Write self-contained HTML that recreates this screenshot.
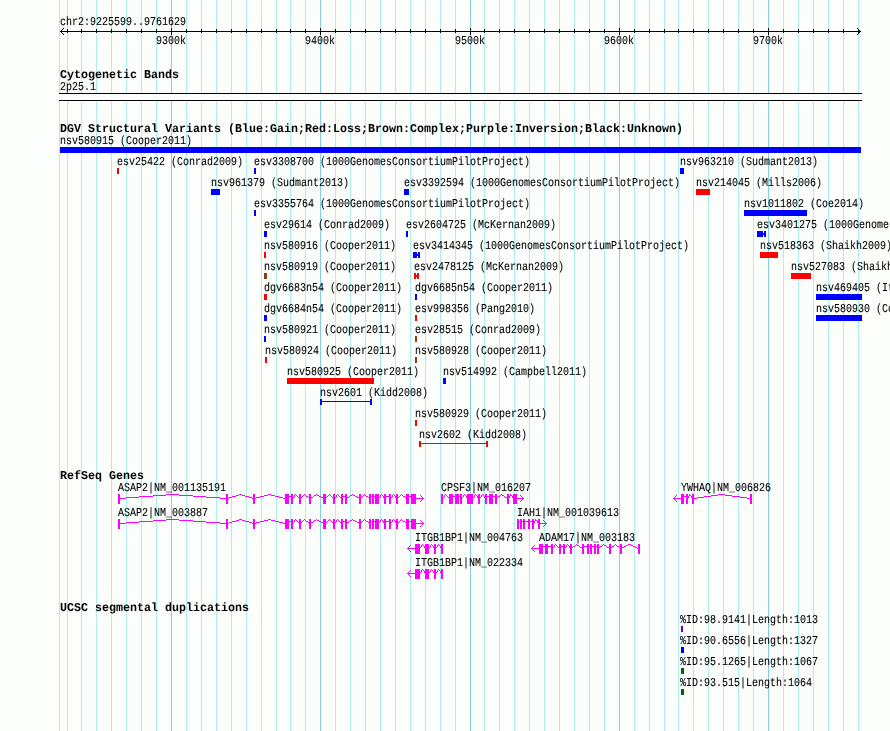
<!DOCTYPE html>
<html><head><meta charset="utf-8"><style>
html,body{margin:0;padding:0;background:#fcfefc;width:890px;height:731px;overflow:hidden}
svg{display:block;will-change:transform}
rect,polyline{shape-rendering:crispEdges}
text{font-family:"Liberation Mono",monospace;fill:#000;text-rendering:geometricPrecision}
text.n{font-size:12.0px;stroke:#000;stroke-width:0.1px}
text.b{font-size:12.0px;font-weight:bold}
</style></head><body>
<svg width="890" height="731" viewBox="0 0 890 731">
<rect x="0" y="0" width="890" height="731" fill="#fcfefc"/>
<rect x="59" y="0" width="1" height="731" fill="#afeeee"/>
<rect x="67" y="0" width="1" height="731" fill="#afeeee"/>
<rect x="81" y="0" width="1" height="731" fill="#afeeee"/>
<rect x="96" y="0" width="1" height="731" fill="#afeeee"/>
<rect x="111" y="0" width="1" height="731" fill="#afeeee"/>
<rect x="126" y="0" width="1" height="731" fill="#afeeee"/>
<rect x="141" y="0" width="1" height="731" fill="#afeeee"/>
<rect x="156" y="0" width="1" height="731" fill="#afeeee"/>
<rect x="171" y="0" width="1" height="731" fill="#87ceeb"/>
<rect x="186" y="0" width="1" height="731" fill="#afeeee"/>
<rect x="201" y="0" width="1" height="731" fill="#afeeee"/>
<rect x="216" y="0" width="1" height="731" fill="#afeeee"/>
<rect x="231" y="0" width="1" height="731" fill="#afeeee"/>
<rect x="246" y="0" width="1" height="731" fill="#afeeee"/>
<rect x="261" y="0" width="1" height="731" fill="#afeeee"/>
<rect x="276" y="0" width="1" height="731" fill="#afeeee"/>
<rect x="290" y="0" width="1" height="731" fill="#afeeee"/>
<rect x="305" y="0" width="1" height="731" fill="#afeeee"/>
<rect x="320" y="0" width="1" height="731" fill="#87ceeb"/>
<rect x="335" y="0" width="1" height="731" fill="#afeeee"/>
<rect x="350" y="0" width="1" height="731" fill="#afeeee"/>
<rect x="365" y="0" width="1" height="731" fill="#afeeee"/>
<rect x="380" y="0" width="1" height="731" fill="#afeeee"/>
<rect x="395" y="0" width="1" height="731" fill="#afeeee"/>
<rect x="410" y="0" width="1" height="731" fill="#afeeee"/>
<rect x="425" y="0" width="1" height="731" fill="#afeeee"/>
<rect x="440" y="0" width="1" height="731" fill="#afeeee"/>
<rect x="455" y="0" width="1" height="731" fill="#afeeee"/>
<rect x="470" y="0" width="1" height="731" fill="#87ceeb"/>
<rect x="484" y="0" width="1" height="731" fill="#afeeee"/>
<rect x="499" y="0" width="1" height="731" fill="#afeeee"/>
<rect x="514" y="0" width="1" height="731" fill="#afeeee"/>
<rect x="529" y="0" width="1" height="731" fill="#afeeee"/>
<rect x="544" y="0" width="1" height="731" fill="#afeeee"/>
<rect x="559" y="0" width="1" height="731" fill="#afeeee"/>
<rect x="574" y="0" width="1" height="731" fill="#afeeee"/>
<rect x="589" y="0" width="1" height="731" fill="#afeeee"/>
<rect x="604" y="0" width="1" height="731" fill="#afeeee"/>
<rect x="619" y="0" width="1" height="731" fill="#87ceeb"/>
<rect x="634" y="0" width="1" height="731" fill="#afeeee"/>
<rect x="649" y="0" width="1" height="731" fill="#afeeee"/>
<rect x="664" y="0" width="1" height="731" fill="#afeeee"/>
<rect x="678" y="0" width="1" height="731" fill="#afeeee"/>
<rect x="693" y="0" width="1" height="731" fill="#afeeee"/>
<rect x="708" y="0" width="1" height="731" fill="#afeeee"/>
<rect x="723" y="0" width="1" height="731" fill="#afeeee"/>
<rect x="738" y="0" width="1" height="731" fill="#afeeee"/>
<rect x="753" y="0" width="1" height="731" fill="#afeeee"/>
<rect x="768" y="0" width="1" height="731" fill="#87ceeb"/>
<rect x="783" y="0" width="1" height="731" fill="#afeeee"/>
<rect x="798" y="0" width="1" height="731" fill="#afeeee"/>
<rect x="813" y="0" width="1" height="731" fill="#afeeee"/>
<rect x="828" y="0" width="1" height="731" fill="#afeeee"/>
<rect x="843" y="0" width="1" height="731" fill="#afeeee"/>
<rect x="858" y="0" width="1" height="731" fill="#afeeee"/>
<text class="n" x="60" y="25" textLength="126" lengthAdjust="spacingAndGlyphs">chr2:9225599..9761629</text>
<rect x="60" y="31" width="801" height="1" fill="#000"/>
<rect x="60" y="31" width="1" height="1" fill="#000"/>
<rect x="62" y="33" width="1" height="1" fill="#000"/>
<rect x="61" y="32" width="1" height="1" fill="#000"/>
<rect x="63" y="28" width="1" height="1" fill="#000"/>
<rect x="62" y="29" width="1" height="1" fill="#000"/>
<rect x="63" y="34" width="1" height="1" fill="#000"/>
<rect x="61" y="30" width="1" height="1" fill="#000"/>
<rect x="858" y="33" width="1" height="1" fill="#000"/>
<rect x="859" y="32" width="1" height="1" fill="#000"/>
<rect x="858" y="29" width="1" height="1" fill="#000"/>
<rect x="860" y="31" width="1" height="1" fill="#000"/>
<rect x="857" y="28" width="1" height="1" fill="#000"/>
<rect x="857" y="34" width="1" height="1" fill="#000"/>
<rect x="859" y="30" width="1" height="1" fill="#000"/>
<rect x="67" y="29" width="1" height="4" fill="#000"/>
<rect x="81" y="29" width="1" height="4" fill="#000"/>
<rect x="96" y="29" width="1" height="4" fill="#000"/>
<rect x="111" y="29" width="1" height="4" fill="#000"/>
<rect x="126" y="29" width="1" height="4" fill="#000"/>
<rect x="141" y="29" width="1" height="4" fill="#000"/>
<rect x="156" y="29" width="1" height="4" fill="#000"/>
<rect x="171" y="28" width="1" height="7" fill="#000"/>
<text class="n" x="156" y="44" textLength="30" lengthAdjust="spacingAndGlyphs">9300k</text>
<rect x="186" y="29" width="1" height="4" fill="#000"/>
<rect x="201" y="29" width="1" height="4" fill="#000"/>
<rect x="216" y="29" width="1" height="4" fill="#000"/>
<rect x="231" y="29" width="1" height="4" fill="#000"/>
<rect x="246" y="29" width="1" height="4" fill="#000"/>
<rect x="261" y="29" width="1" height="4" fill="#000"/>
<rect x="276" y="29" width="1" height="4" fill="#000"/>
<rect x="290" y="29" width="1" height="4" fill="#000"/>
<rect x="305" y="29" width="1" height="4" fill="#000"/>
<rect x="320" y="28" width="1" height="7" fill="#000"/>
<text class="n" x="305" y="44" textLength="30" lengthAdjust="spacingAndGlyphs">9400k</text>
<rect x="335" y="29" width="1" height="4" fill="#000"/>
<rect x="350" y="29" width="1" height="4" fill="#000"/>
<rect x="365" y="29" width="1" height="4" fill="#000"/>
<rect x="380" y="29" width="1" height="4" fill="#000"/>
<rect x="395" y="29" width="1" height="4" fill="#000"/>
<rect x="410" y="29" width="1" height="4" fill="#000"/>
<rect x="425" y="29" width="1" height="4" fill="#000"/>
<rect x="440" y="29" width="1" height="4" fill="#000"/>
<rect x="455" y="29" width="1" height="4" fill="#000"/>
<rect x="470" y="28" width="1" height="7" fill="#000"/>
<text class="n" x="455" y="44" textLength="30" lengthAdjust="spacingAndGlyphs">9500k</text>
<rect x="484" y="29" width="1" height="4" fill="#000"/>
<rect x="499" y="29" width="1" height="4" fill="#000"/>
<rect x="514" y="29" width="1" height="4" fill="#000"/>
<rect x="529" y="29" width="1" height="4" fill="#000"/>
<rect x="544" y="29" width="1" height="4" fill="#000"/>
<rect x="559" y="29" width="1" height="4" fill="#000"/>
<rect x="574" y="29" width="1" height="4" fill="#000"/>
<rect x="589" y="29" width="1" height="4" fill="#000"/>
<rect x="604" y="29" width="1" height="4" fill="#000"/>
<rect x="619" y="28" width="1" height="7" fill="#000"/>
<text class="n" x="604" y="44" textLength="30" lengthAdjust="spacingAndGlyphs">9600k</text>
<rect x="634" y="29" width="1" height="4" fill="#000"/>
<rect x="649" y="29" width="1" height="4" fill="#000"/>
<rect x="664" y="29" width="1" height="4" fill="#000"/>
<rect x="678" y="29" width="1" height="4" fill="#000"/>
<rect x="693" y="29" width="1" height="4" fill="#000"/>
<rect x="708" y="29" width="1" height="4" fill="#000"/>
<rect x="723" y="29" width="1" height="4" fill="#000"/>
<rect x="738" y="29" width="1" height="4" fill="#000"/>
<rect x="753" y="29" width="1" height="4" fill="#000"/>
<rect x="768" y="28" width="1" height="7" fill="#000"/>
<text class="n" x="753" y="44" textLength="30" lengthAdjust="spacingAndGlyphs">9700k</text>
<rect x="783" y="29" width="1" height="4" fill="#000"/>
<rect x="798" y="29" width="1" height="4" fill="#000"/>
<rect x="813" y="29" width="1" height="4" fill="#000"/>
<rect x="828" y="29" width="1" height="4" fill="#000"/>
<rect x="843" y="29" width="1" height="4" fill="#000"/>
<rect x="858" y="29" width="1" height="4" fill="#000"/>
<text class="b" x="60" y="78" textLength="119" lengthAdjust="spacingAndGlyphs">Cytogenetic Bands</text>
<text class="n" x="60" y="90" textLength="36" lengthAdjust="spacingAndGlyphs">2p25.1</text>
<rect x="59" y="93" width="803" height="8" fill="#000"/>
<rect x="59" y="94" width="803" height="6" fill="#fcfefc"/>
<text class="b" x="60" y="132" textLength="623" lengthAdjust="spacingAndGlyphs">DGV Structural Variants (Blue:Gain;Red:Loss;Brown:Complex;Purple:Inversion;Black:Unknown)</text>
<text class="n" x="60" y="144" textLength="132" lengthAdjust="spacingAndGlyphs">nsv580915 (Cooper2011)</text>
<rect x="60" y="147" width="801" height="6" fill="#0000ff"/>
<text class="n" x="117" y="165" textLength="126" lengthAdjust="spacingAndGlyphs">esv25422 (Conrad2009)</text>
<rect x="117" y="168" width="2" height="6" fill="#ff0000"/>
<text class="n" x="254" y="165" textLength="276" lengthAdjust="spacingAndGlyphs">esv3308700 (1000GenomesConsortiumPilotProject)</text>
<rect x="254" y="168" width="2" height="6" fill="#0000ff"/>
<text class="n" x="680" y="165" textLength="138" lengthAdjust="spacingAndGlyphs">nsv963210 (Sudmant2013)</text>
<rect x="680" y="168" width="4" height="6" fill="#0000ff"/>
<text class="n" x="211" y="186" textLength="138" lengthAdjust="spacingAndGlyphs">nsv961379 (Sudmant2013)</text>
<rect x="211" y="189" width="9" height="6" fill="#0000ff"/>
<text class="n" x="404" y="186" textLength="276" lengthAdjust="spacingAndGlyphs">esv3392594 (1000GenomesConsortiumPilotProject)</text>
<rect x="404" y="189" width="5" height="6" fill="#0000ff"/>
<text class="n" x="696" y="186" textLength="126" lengthAdjust="spacingAndGlyphs">nsv214045 (Mills2006)</text>
<rect x="696" y="189" width="14" height="6" fill="#ff0000"/>
<text class="n" x="254" y="207" textLength="276" lengthAdjust="spacingAndGlyphs">esv3355764 (1000GenomesConsortiumPilotProject)</text>
<rect x="254" y="210" width="2" height="6" fill="#0000ff"/>
<text class="n" x="744" y="207" textLength="120" lengthAdjust="spacingAndGlyphs">nsv1011802 (Coe2014)</text>
<rect x="744" y="210" width="63" height="6" fill="#0000ff"/>
<text class="n" x="264" y="228" textLength="126" lengthAdjust="spacingAndGlyphs">esv29614 (Conrad2009)</text>
<rect x="264" y="231" width="3" height="6" fill="#0000ff"/>
<text class="n" x="406" y="228" textLength="150" lengthAdjust="spacingAndGlyphs">esv2604725 (McKernan2009)</text>
<rect x="406" y="231" width="2" height="6" fill="#0000ff"/>
<text class="n" x="757" y="228" textLength="276" lengthAdjust="spacingAndGlyphs">esv3401275 (1000GenomesConsortiumPilotProject)</text>
<rect x="757" y="231" width="6" height="6" fill="#0000ff"/>
<rect x="764" y="231" width="2" height="6" fill="#0000ff"/>
<rect x="763" y="233" width="1" height="2" fill="#0000ff"/>
<text class="n" x="264" y="249" textLength="132" lengthAdjust="spacingAndGlyphs">nsv580916 (Cooper2011)</text>
<rect x="264" y="252" width="2" height="6" fill="#ff0000"/>
<text class="n" x="413" y="249" textLength="276" lengthAdjust="spacingAndGlyphs">esv3414345 (1000GenomesConsortiumPilotProject)</text>
<rect x="413" y="252" width="4" height="6" fill="#0000ff"/>
<rect x="418" y="252" width="2" height="6" fill="#0000ff"/>
<rect x="417" y="254" width="1" height="2" fill="#0000ff"/>
<text class="n" x="760" y="249" textLength="132" lengthAdjust="spacingAndGlyphs">nsv518363 (Shaikh2009)</text>
<rect x="760" y="252" width="18" height="6" fill="#ff0000"/>
<text class="n" x="264" y="270" textLength="132" lengthAdjust="spacingAndGlyphs">nsv580919 (Cooper2011)</text>
<rect x="264" y="273" width="3" height="6" fill="#8b3e0c"/>
<rect x="265" y="274" width="1" height="4" fill="#8b4513"/>
<text class="n" x="414" y="270" textLength="150" lengthAdjust="spacingAndGlyphs">esv2478125 (McKernan2009)</text>
<rect x="414" y="273" width="2" height="6" fill="#ff0000"/>
<rect x="417" y="273" width="2" height="6" fill="#ff0000"/>
<rect x="416" y="275" width="1" height="2" fill="#ff0000"/>
<text class="n" x="791" y="270" textLength="132" lengthAdjust="spacingAndGlyphs">nsv527083 (Shaikh2009)</text>
<rect x="791" y="273" width="20" height="6" fill="#ff0000"/>
<text class="n" x="264" y="291" textLength="138" lengthAdjust="spacingAndGlyphs">dgv6683n54 (Cooper2011)</text>
<rect x="264" y="294" width="3" height="6" fill="#ff0000"/>
<text class="n" x="415" y="291" textLength="138" lengthAdjust="spacingAndGlyphs">dgv6685n54 (Cooper2011)</text>
<rect x="415" y="294" width="2" height="6" fill="#0000ff"/>
<text class="n" x="816" y="291" textLength="132" lengthAdjust="spacingAndGlyphs">nsv469405 (Itsara2009)</text>
<rect x="816" y="294" width="46" height="6" fill="#0000ff"/>
<text class="n" x="264" y="312" textLength="138" lengthAdjust="spacingAndGlyphs">dgv6684n54 (Cooper2011)</text>
<rect x="264" y="315" width="3" height="6" fill="#0000ff"/>
<text class="n" x="415" y="312" textLength="120" lengthAdjust="spacingAndGlyphs">esv998356 (Pang2010)</text>
<rect x="415" y="315" width="2" height="6" fill="#ff0000"/>
<text class="n" x="816" y="312" textLength="132" lengthAdjust="spacingAndGlyphs">nsv580930 (Cooper2011)</text>
<rect x="816" y="315" width="46" height="6" fill="#0000ff"/>
<text class="n" x="264" y="333" textLength="132" lengthAdjust="spacingAndGlyphs">nsv580921 (Cooper2011)</text>
<rect x="264" y="336" width="2" height="6" fill="#0000ff"/>
<text class="n" x="415" y="333" textLength="126" lengthAdjust="spacingAndGlyphs">esv28515 (Conrad2009)</text>
<rect x="415" y="336" width="2" height="6" fill="#8b3e0c"/>
<text class="n" x="265" y="354" textLength="132" lengthAdjust="spacingAndGlyphs">nsv580924 (Cooper2011)</text>
<rect x="265" y="357" width="2" height="6" fill="#ff0000"/>
<text class="n" x="415" y="354" textLength="132" lengthAdjust="spacingAndGlyphs">nsv580928 (Cooper2011)</text>
<rect x="415" y="357" width="2" height="6" fill="#8b3e0c"/>
<text class="n" x="287" y="375" textLength="132" lengthAdjust="spacingAndGlyphs">nsv580925 (Cooper2011)</text>
<rect x="287" y="378" width="87" height="6" fill="#ff0000"/>
<text class="n" x="443" y="375" textLength="144" lengthAdjust="spacingAndGlyphs">nsv514992 (Campbell2011)</text>
<rect x="443" y="378" width="3" height="6" fill="#0000ff"/>
<text class="n" x="320" y="396" textLength="108" lengthAdjust="spacingAndGlyphs">nsv2601 (Kidd2008)</text>
<rect x="320" y="399" width="2" height="6" fill="#0000ff"/>
<rect x="370" y="399" width="2" height="6" fill="#0000ff"/>
<rect x="320" y="401" width="52" height="1" fill="#0000ff"/>
<text class="n" x="415" y="417" textLength="132" lengthAdjust="spacingAndGlyphs">nsv580929 (Cooper2011)</text>
<rect x="415" y="420" width="2" height="6" fill="#ff0000"/>
<text class="n" x="419" y="438" textLength="108" lengthAdjust="spacingAndGlyphs">nsv2602 (Kidd2008)</text>
<rect x="419" y="441" width="2" height="6" fill="#ff0000"/>
<rect x="486" y="441" width="2" height="6" fill="#ff0000"/>
<rect x="419" y="443" width="69" height="1" fill="#ff0000"/>
<text class="b" x="60" y="479" textLength="84" lengthAdjust="spacingAndGlyphs">RefSeq Genes</text>
<text class="n" x="118" y="491" textLength="108" lengthAdjust="spacingAndGlyphs">ASAP2|NM_001135191</text>
<rect x="118" y="494" width="2" height="10" fill="#ff00ff"/>
<rect x="226" y="494" width="2" height="10" fill="#ff00ff"/>
<rect x="253" y="494" width="2" height="10" fill="#ff00ff"/>
<rect x="285" y="494" width="4" height="10" fill="#ff00ff"/>
<rect x="291" y="494" width="2" height="10" fill="#ff00ff"/>
<rect x="299" y="494" width="2" height="10" fill="#ff00ff"/>
<rect x="309" y="494" width="2" height="10" fill="#ff00ff"/>
<rect x="323" y="494" width="3" height="10" fill="#ff00ff"/>
<rect x="333" y="494" width="2" height="10" fill="#ff00ff"/>
<rect x="341" y="494" width="2" height="10" fill="#ff00ff"/>
<rect x="345" y="494" width="2" height="10" fill="#ff00ff"/>
<rect x="359" y="494" width="2" height="10" fill="#ff00ff"/>
<rect x="369" y="494" width="2" height="10" fill="#ff00ff"/>
<rect x="372" y="494" width="2" height="10" fill="#ff00ff"/>
<rect x="375" y="494" width="4" height="10" fill="#ff00ff"/>
<rect x="384" y="494" width="2" height="10" fill="#ff00ff"/>
<rect x="389" y="494" width="2" height="10" fill="#ff00ff"/>
<rect x="396" y="494" width="2" height="10" fill="#ff00ff"/>
<rect x="406" y="494" width="3" height="10" fill="#ff00ff"/>
<rect x="411" y="494" width="5" height="10" fill="#ff00ff"/>
<rect x="153" y="495" width="13" height="1" fill="#ff00ff"/>
<rect x="179" y="495" width="14" height="1" fill="#ff00ff"/>
<rect x="119" y="498" width="7" height="1" fill="#ff00ff"/>
<rect x="220" y="498" width="7" height="1" fill="#ff00ff"/>
<rect x="126" y="497" width="13" height="1" fill="#ff00ff"/>
<rect x="206" y="497" width="14" height="1" fill="#ff00ff"/>
<rect x="139" y="496" width="14" height="1" fill="#ff00ff"/>
<rect x="193" y="496" width="13" height="1" fill="#ff00ff"/>
<rect x="166" y="494" width="13" height="1" fill="#ff00ff"/>
<rect x="232" y="496" width="4" height="1" fill="#ff00ff"/>
<rect x="245" y="496" width="4" height="1" fill="#ff00ff"/>
<rect x="236" y="495" width="3" height="1" fill="#ff00ff"/>
<rect x="242" y="495" width="3" height="1" fill="#ff00ff"/>
<rect x="239" y="494" width="3" height="1" fill="#ff00ff"/>
<rect x="227" y="498" width="2" height="1" fill="#ff00ff"/>
<rect x="252" y="498" width="2" height="1" fill="#ff00ff"/>
<rect x="229" y="497" width="3" height="1" fill="#ff00ff"/>
<rect x="249" y="497" width="3" height="1" fill="#ff00ff"/>
<rect x="264" y="495" width="4" height="1" fill="#ff00ff"/>
<rect x="271" y="495" width="4" height="1" fill="#ff00ff"/>
<rect x="260" y="496" width="4" height="1" fill="#ff00ff"/>
<rect x="275" y="496" width="4" height="1" fill="#ff00ff"/>
<rect x="254" y="498" width="2" height="1" fill="#ff00ff"/>
<rect x="283" y="498" width="3" height="1" fill="#ff00ff"/>
<rect x="256" y="497" width="4" height="1" fill="#ff00ff"/>
<rect x="279" y="497" width="4" height="1" fill="#ff00ff"/>
<rect x="268" y="494" width="3" height="1" fill="#ff00ff"/>
<rect x="288" y="496" width="4" height="1" fill="#ff00ff"/>
<rect x="294" y="496" width="1" height="1" fill="#ff00ff"/>
<rect x="297" y="496" width="1" height="1" fill="#ff00ff"/>
<rect x="294" y="495" width="1" height="1" fill="#ff00ff"/>
<rect x="296" y="495" width="1" height="1" fill="#ff00ff"/>
<rect x="292" y="498" width="1" height="1" fill="#ff00ff"/>
<rect x="299" y="498" width="1" height="1" fill="#ff00ff"/>
<rect x="295" y="494" width="1" height="1" fill="#ff00ff"/>
<rect x="293" y="497" width="1" height="1" fill="#ff00ff"/>
<rect x="298" y="497" width="1" height="1" fill="#ff00ff"/>
<rect x="302" y="496" width="1" height="1" fill="#ff00ff"/>
<rect x="306" y="496" width="2" height="1" fill="#ff00ff"/>
<rect x="303" y="495" width="1" height="1" fill="#ff00ff"/>
<rect x="305" y="495" width="1" height="1" fill="#ff00ff"/>
<rect x="300" y="498" width="1" height="1" fill="#ff00ff"/>
<rect x="309" y="498" width="1" height="1" fill="#ff00ff"/>
<rect x="301" y="497" width="1" height="1" fill="#ff00ff"/>
<rect x="308" y="497" width="1" height="1" fill="#ff00ff"/>
<rect x="304" y="494" width="1" height="1" fill="#ff00ff"/>
<rect x="313" y="496" width="1" height="1" fill="#ff00ff"/>
<rect x="319" y="496" width="2" height="1" fill="#ff00ff"/>
<rect x="314" y="495" width="2" height="1" fill="#ff00ff"/>
<rect x="317" y="495" width="2" height="1" fill="#ff00ff"/>
<rect x="311" y="497" width="2" height="1" fill="#ff00ff"/>
<rect x="321" y="497" width="2" height="1" fill="#ff00ff"/>
<rect x="310" y="498" width="1" height="1" fill="#ff00ff"/>
<rect x="323" y="498" width="1" height="1" fill="#ff00ff"/>
<rect x="316" y="494" width="1" height="1" fill="#ff00ff"/>
<rect x="327" y="496" width="1" height="1" fill="#ff00ff"/>
<rect x="331" y="496" width="1" height="1" fill="#ff00ff"/>
<rect x="325" y="498" width="1" height="1" fill="#ff00ff"/>
<rect x="333" y="498" width="1" height="1" fill="#ff00ff"/>
<rect x="326" y="497" width="1" height="1" fill="#ff00ff"/>
<rect x="332" y="497" width="1" height="1" fill="#ff00ff"/>
<rect x="328" y="495" width="1" height="1" fill="#ff00ff"/>
<rect x="330" y="495" width="1" height="1" fill="#ff00ff"/>
<rect x="329" y="494" width="1" height="1" fill="#ff00ff"/>
<rect x="335" y="497" width="1" height="1" fill="#ff00ff"/>
<rect x="340" y="497" width="1" height="1" fill="#ff00ff"/>
<rect x="336" y="495" width="1" height="1" fill="#ff00ff"/>
<rect x="338" y="495" width="1" height="1" fill="#ff00ff"/>
<rect x="336" y="496" width="1" height="1" fill="#ff00ff"/>
<rect x="339" y="496" width="1" height="1" fill="#ff00ff"/>
<rect x="334" y="498" width="1" height="1" fill="#ff00ff"/>
<rect x="341" y="498" width="1" height="1" fill="#ff00ff"/>
<rect x="337" y="494" width="1" height="1" fill="#ff00ff"/>
<rect x="342" y="496" width="4" height="1" fill="#ff00ff"/>
<rect x="349" y="496" width="1" height="1" fill="#ff00ff"/>
<rect x="355" y="496" width="2" height="1" fill="#ff00ff"/>
<rect x="346" y="498" width="1" height="1" fill="#ff00ff"/>
<rect x="359" y="498" width="1" height="1" fill="#ff00ff"/>
<rect x="350" y="495" width="2" height="1" fill="#ff00ff"/>
<rect x="353" y="495" width="2" height="1" fill="#ff00ff"/>
<rect x="352" y="494" width="1" height="1" fill="#ff00ff"/>
<rect x="347" y="497" width="2" height="1" fill="#ff00ff"/>
<rect x="357" y="497" width="2" height="1" fill="#ff00ff"/>
<rect x="361" y="497" width="1" height="1" fill="#ff00ff"/>
<rect x="368" y="497" width="1" height="1" fill="#ff00ff"/>
<rect x="362" y="496" width="1" height="1" fill="#ff00ff"/>
<rect x="366" y="496" width="2" height="1" fill="#ff00ff"/>
<rect x="363" y="495" width="1" height="1" fill="#ff00ff"/>
<rect x="365" y="495" width="1" height="1" fill="#ff00ff"/>
<rect x="360" y="498" width="1" height="1" fill="#ff00ff"/>
<rect x="369" y="498" width="1" height="1" fill="#ff00ff"/>
<rect x="364" y="494" width="1" height="1" fill="#ff00ff"/>
<rect x="370" y="496" width="3" height="1" fill="#ff00ff"/>
<rect x="373" y="496" width="3" height="1" fill="#ff00ff"/>
<rect x="380" y="496" width="1" height="1" fill="#ff00ff"/>
<rect x="383" y="496" width="1" height="1" fill="#ff00ff"/>
<rect x="378" y="498" width="1" height="1" fill="#ff00ff"/>
<rect x="384" y="498" width="1" height="1" fill="#ff00ff"/>
<rect x="380" y="495" width="1" height="1" fill="#ff00ff"/>
<rect x="382" y="495" width="1" height="1" fill="#ff00ff"/>
<rect x="379" y="497" width="1" height="1" fill="#ff00ff"/>
<rect x="383" y="497" width="1" height="1" fill="#ff00ff"/>
<rect x="381" y="494" width="1" height="1" fill="#ff00ff"/>
<rect x="385" y="496" width="5" height="1" fill="#ff00ff"/>
<rect x="392" y="496" width="1" height="1" fill="#ff00ff"/>
<rect x="395" y="496" width="1" height="1" fill="#ff00ff"/>
<rect x="390" y="498" width="1" height="1" fill="#ff00ff"/>
<rect x="396" y="498" width="1" height="1" fill="#ff00ff"/>
<rect x="393" y="494" width="1" height="1" fill="#ff00ff"/>
<rect x="392" y="495" width="1" height="1" fill="#ff00ff"/>
<rect x="394" y="495" width="1" height="1" fill="#ff00ff"/>
<rect x="391" y="497" width="1" height="1" fill="#ff00ff"/>
<rect x="395" y="497" width="1" height="1" fill="#ff00ff"/>
<rect x="399" y="496" width="1" height="1" fill="#ff00ff"/>
<rect x="403" y="496" width="2" height="1" fill="#ff00ff"/>
<rect x="397" y="498" width="1" height="1" fill="#ff00ff"/>
<rect x="406" y="498" width="1" height="1" fill="#ff00ff"/>
<rect x="400" y="495" width="1" height="1" fill="#ff00ff"/>
<rect x="402" y="495" width="1" height="1" fill="#ff00ff"/>
<rect x="401" y="494" width="1" height="1" fill="#ff00ff"/>
<rect x="398" y="497" width="1" height="1" fill="#ff00ff"/>
<rect x="405" y="497" width="1" height="1" fill="#ff00ff"/>
<rect x="408" y="496" width="4" height="1" fill="#ff00ff"/>
<rect x="416" y="498" width="8" height="1" fill="#ff00ff"/>
<rect x="422" y="499" width="1" height="1" fill="#ff00ff"/>
<rect x="423" y="498" width="1" height="1" fill="#ff00ff"/>
<rect x="420" y="495" width="1" height="1" fill="#ff00ff"/>
<rect x="420" y="501" width="1" height="1" fill="#ff00ff"/>
<rect x="422" y="497" width="1" height="1" fill="#ff00ff"/>
<rect x="421" y="500" width="1" height="1" fill="#ff00ff"/>
<rect x="421" y="496" width="1" height="1" fill="#ff00ff"/>
<text class="n" x="441" y="491" textLength="90" lengthAdjust="spacingAndGlyphs">CPSF3|NM_016207</text>
<rect x="441" y="494" width="2" height="10" fill="#ff00ff"/>
<rect x="449" y="494" width="4" height="10" fill="#ff00ff"/>
<rect x="455" y="494" width="4" height="10" fill="#ff00ff"/>
<rect x="460" y="494" width="2" height="10" fill="#ff00ff"/>
<rect x="467" y="494" width="6" height="10" fill="#ff00ff"/>
<rect x="478" y="494" width="2" height="10" fill="#ff00ff"/>
<rect x="485" y="494" width="2" height="10" fill="#ff00ff"/>
<rect x="489" y="494" width="4" height="10" fill="#ff00ff"/>
<rect x="495" y="494" width="2" height="10" fill="#ff00ff"/>
<rect x="507" y="494" width="2" height="10" fill="#ff00ff"/>
<rect x="513" y="494" width="4" height="10" fill="#ff00ff"/>
<rect x="443" y="497" width="1" height="1" fill="#ff00ff"/>
<rect x="448" y="497" width="1" height="1" fill="#ff00ff"/>
<rect x="442" y="498" width="1" height="1" fill="#ff00ff"/>
<rect x="449" y="498" width="1" height="1" fill="#ff00ff"/>
<rect x="444" y="496" width="1" height="1" fill="#ff00ff"/>
<rect x="447" y="496" width="1" height="1" fill="#ff00ff"/>
<rect x="444" y="495" width="1" height="1" fill="#ff00ff"/>
<rect x="446" y="495" width="1" height="1" fill="#ff00ff"/>
<rect x="445" y="494" width="1" height="1" fill="#ff00ff"/>
<rect x="452" y="496" width="4" height="1" fill="#ff00ff"/>
<rect x="458" y="496" width="3" height="1" fill="#ff00ff"/>
<rect x="463" y="496" width="1" height="1" fill="#ff00ff"/>
<rect x="466" y="496" width="1" height="1" fill="#ff00ff"/>
<rect x="461" y="498" width="1" height="1" fill="#ff00ff"/>
<rect x="467" y="498" width="1" height="1" fill="#ff00ff"/>
<rect x="463" y="495" width="1" height="1" fill="#ff00ff"/>
<rect x="465" y="495" width="1" height="1" fill="#ff00ff"/>
<rect x="464" y="494" width="1" height="1" fill="#ff00ff"/>
<rect x="462" y="497" width="1" height="1" fill="#ff00ff"/>
<rect x="466" y="497" width="1" height="1" fill="#ff00ff"/>
<rect x="474" y="496" width="1" height="1" fill="#ff00ff"/>
<rect x="477" y="496" width="1" height="1" fill="#ff00ff"/>
<rect x="474" y="495" width="1" height="1" fill="#ff00ff"/>
<rect x="476" y="495" width="1" height="1" fill="#ff00ff"/>
<rect x="472" y="498" width="1" height="1" fill="#ff00ff"/>
<rect x="478" y="498" width="1" height="1" fill="#ff00ff"/>
<rect x="475" y="494" width="1" height="1" fill="#ff00ff"/>
<rect x="473" y="497" width="1" height="1" fill="#ff00ff"/>
<rect x="477" y="497" width="1" height="1" fill="#ff00ff"/>
<rect x="482" y="494" width="1" height="1" fill="#ff00ff"/>
<rect x="479" y="498" width="1" height="1" fill="#ff00ff"/>
<rect x="485" y="498" width="1" height="1" fill="#ff00ff"/>
<rect x="481" y="496" width="1" height="1" fill="#ff00ff"/>
<rect x="484" y="496" width="1" height="1" fill="#ff00ff"/>
<rect x="481" y="495" width="1" height="1" fill="#ff00ff"/>
<rect x="483" y="495" width="1" height="1" fill="#ff00ff"/>
<rect x="480" y="497" width="1" height="1" fill="#ff00ff"/>
<rect x="484" y="497" width="1" height="1" fill="#ff00ff"/>
<rect x="486" y="496" width="4" height="1" fill="#ff00ff"/>
<rect x="492" y="496" width="4" height="1" fill="#ff00ff"/>
<rect x="497" y="497" width="1" height="1" fill="#ff00ff"/>
<rect x="505" y="497" width="2" height="1" fill="#ff00ff"/>
<rect x="500" y="495" width="1" height="1" fill="#ff00ff"/>
<rect x="502" y="495" width="2" height="1" fill="#ff00ff"/>
<rect x="498" y="496" width="2" height="1" fill="#ff00ff"/>
<rect x="504" y="496" width="1" height="1" fill="#ff00ff"/>
<rect x="496" y="498" width="1" height="1" fill="#ff00ff"/>
<rect x="507" y="498" width="1" height="1" fill="#ff00ff"/>
<rect x="501" y="494" width="1" height="1" fill="#ff00ff"/>
<rect x="508" y="498" width="1" height="1" fill="#ff00ff"/>
<rect x="513" y="498" width="1" height="1" fill="#ff00ff"/>
<rect x="509" y="496" width="1" height="1" fill="#ff00ff"/>
<rect x="512" y="496" width="1" height="1" fill="#ff00ff"/>
<rect x="510" y="495" width="2" height="1" fill="#ff00ff"/>
<rect x="510" y="494" width="1" height="1" fill="#ff00ff"/>
<rect x="509" y="497" width="1" height="1" fill="#ff00ff"/>
<rect x="512" y="497" width="1" height="1" fill="#ff00ff"/>
<rect x="517" y="498" width="7" height="1" fill="#ff00ff"/>
<rect x="520" y="495" width="1" height="1" fill="#ff00ff"/>
<rect x="522" y="499" width="1" height="1" fill="#ff00ff"/>
<rect x="520" y="501" width="1" height="1" fill="#ff00ff"/>
<rect x="523" y="498" width="1" height="1" fill="#ff00ff"/>
<rect x="522" y="497" width="1" height="1" fill="#ff00ff"/>
<rect x="521" y="500" width="1" height="1" fill="#ff00ff"/>
<rect x="521" y="496" width="1" height="1" fill="#ff00ff"/>
<text class="n" x="681" y="491" textLength="90" lengthAdjust="spacingAndGlyphs">YWHAQ|NM_006826</text>
<rect x="681" y="494" width="3" height="10" fill="#ff00ff"/>
<rect x="686" y="494" width="2" height="10" fill="#ff00ff"/>
<rect x="692" y="494" width="2" height="10" fill="#ff00ff"/>
<rect x="750" y="494" width="2" height="10" fill="#ff00ff"/>
<rect x="683" y="496" width="4" height="1" fill="#ff00ff"/>
<rect x="688" y="496" width="1" height="1" fill="#ff00ff"/>
<rect x="691" y="496" width="1" height="1" fill="#ff00ff"/>
<rect x="689" y="495" width="2" height="1" fill="#ff00ff"/>
<rect x="687" y="498" width="1" height="1" fill="#ff00ff"/>
<rect x="692" y="498" width="1" height="1" fill="#ff00ff"/>
<rect x="689" y="494" width="1" height="1" fill="#ff00ff"/>
<rect x="688" y="497" width="1" height="1" fill="#ff00ff"/>
<rect x="691" y="497" width="1" height="1" fill="#ff00ff"/>
<rect x="704" y="496" width="7" height="1" fill="#ff00ff"/>
<rect x="732" y="496" width="8" height="1" fill="#ff00ff"/>
<rect x="711" y="495" width="7" height="1" fill="#ff00ff"/>
<rect x="725" y="495" width="7" height="1" fill="#ff00ff"/>
<rect x="697" y="497" width="7" height="1" fill="#ff00ff"/>
<rect x="740" y="497" width="7" height="1" fill="#ff00ff"/>
<rect x="693" y="498" width="4" height="1" fill="#ff00ff"/>
<rect x="747" y="498" width="4" height="1" fill="#ff00ff"/>
<rect x="718" y="494" width="7" height="1" fill="#ff00ff"/>
<rect x="673" y="498" width="8" height="1" fill="#ff00ff"/>
<rect x="676" y="495" width="1" height="1" fill="#ff00ff"/>
<rect x="676" y="501" width="1" height="1" fill="#ff00ff"/>
<rect x="673" y="498" width="1" height="1" fill="#ff00ff"/>
<rect x="674" y="497" width="1" height="1" fill="#ff00ff"/>
<rect x="675" y="500" width="1" height="1" fill="#ff00ff"/>
<rect x="675" y="496" width="1" height="1" fill="#ff00ff"/>
<rect x="674" y="499" width="1" height="1" fill="#ff00ff"/>
<text class="n" x="118" y="516" textLength="90" lengthAdjust="spacingAndGlyphs">ASAP2|NM_003887</text>
<rect x="118" y="519" width="2" height="10" fill="#ff00ff"/>
<rect x="226" y="519" width="2" height="10" fill="#ff00ff"/>
<rect x="253" y="519" width="2" height="10" fill="#ff00ff"/>
<rect x="285" y="519" width="4" height="10" fill="#ff00ff"/>
<rect x="291" y="519" width="2" height="10" fill="#ff00ff"/>
<rect x="299" y="519" width="2" height="10" fill="#ff00ff"/>
<rect x="309" y="519" width="2" height="10" fill="#ff00ff"/>
<rect x="323" y="519" width="3" height="10" fill="#ff00ff"/>
<rect x="333" y="519" width="2" height="10" fill="#ff00ff"/>
<rect x="341" y="519" width="2" height="10" fill="#ff00ff"/>
<rect x="345" y="519" width="2" height="10" fill="#ff00ff"/>
<rect x="359" y="519" width="2" height="10" fill="#ff00ff"/>
<rect x="369" y="519" width="2" height="10" fill="#ff00ff"/>
<rect x="372" y="519" width="2" height="10" fill="#ff00ff"/>
<rect x="375" y="519" width="4" height="10" fill="#ff00ff"/>
<rect x="384" y="519" width="2" height="10" fill="#ff00ff"/>
<rect x="389" y="519" width="2" height="10" fill="#ff00ff"/>
<rect x="396" y="519" width="2" height="10" fill="#ff00ff"/>
<rect x="406" y="519" width="3" height="10" fill="#ff00ff"/>
<rect x="411" y="519" width="5" height="10" fill="#ff00ff"/>
<rect x="139" y="521" width="14" height="1" fill="#ff00ff"/>
<rect x="193" y="521" width="13" height="1" fill="#ff00ff"/>
<rect x="153" y="520" width="13" height="1" fill="#ff00ff"/>
<rect x="179" y="520" width="14" height="1" fill="#ff00ff"/>
<rect x="166" y="519" width="13" height="1" fill="#ff00ff"/>
<rect x="126" y="522" width="13" height="1" fill="#ff00ff"/>
<rect x="206" y="522" width="14" height="1" fill="#ff00ff"/>
<rect x="119" y="523" width="7" height="1" fill="#ff00ff"/>
<rect x="220" y="523" width="7" height="1" fill="#ff00ff"/>
<rect x="239" y="519" width="3" height="1" fill="#ff00ff"/>
<rect x="232" y="521" width="4" height="1" fill="#ff00ff"/>
<rect x="245" y="521" width="4" height="1" fill="#ff00ff"/>
<rect x="236" y="520" width="3" height="1" fill="#ff00ff"/>
<rect x="242" y="520" width="3" height="1" fill="#ff00ff"/>
<rect x="227" y="523" width="2" height="1" fill="#ff00ff"/>
<rect x="252" y="523" width="2" height="1" fill="#ff00ff"/>
<rect x="229" y="522" width="3" height="1" fill="#ff00ff"/>
<rect x="249" y="522" width="3" height="1" fill="#ff00ff"/>
<rect x="256" y="522" width="4" height="1" fill="#ff00ff"/>
<rect x="279" y="522" width="4" height="1" fill="#ff00ff"/>
<rect x="260" y="521" width="4" height="1" fill="#ff00ff"/>
<rect x="275" y="521" width="4" height="1" fill="#ff00ff"/>
<rect x="264" y="520" width="4" height="1" fill="#ff00ff"/>
<rect x="271" y="520" width="4" height="1" fill="#ff00ff"/>
<rect x="254" y="523" width="2" height="1" fill="#ff00ff"/>
<rect x="283" y="523" width="3" height="1" fill="#ff00ff"/>
<rect x="268" y="519" width="3" height="1" fill="#ff00ff"/>
<rect x="288" y="521" width="4" height="1" fill="#ff00ff"/>
<rect x="293" y="522" width="1" height="1" fill="#ff00ff"/>
<rect x="298" y="522" width="1" height="1" fill="#ff00ff"/>
<rect x="294" y="521" width="1" height="1" fill="#ff00ff"/>
<rect x="297" y="521" width="1" height="1" fill="#ff00ff"/>
<rect x="294" y="520" width="1" height="1" fill="#ff00ff"/>
<rect x="296" y="520" width="1" height="1" fill="#ff00ff"/>
<rect x="292" y="523" width="1" height="1" fill="#ff00ff"/>
<rect x="299" y="523" width="1" height="1" fill="#ff00ff"/>
<rect x="295" y="519" width="1" height="1" fill="#ff00ff"/>
<rect x="304" y="519" width="1" height="1" fill="#ff00ff"/>
<rect x="301" y="522" width="1" height="1" fill="#ff00ff"/>
<rect x="308" y="522" width="1" height="1" fill="#ff00ff"/>
<rect x="302" y="521" width="1" height="1" fill="#ff00ff"/>
<rect x="306" y="521" width="2" height="1" fill="#ff00ff"/>
<rect x="300" y="523" width="1" height="1" fill="#ff00ff"/>
<rect x="309" y="523" width="1" height="1" fill="#ff00ff"/>
<rect x="303" y="520" width="1" height="1" fill="#ff00ff"/>
<rect x="305" y="520" width="1" height="1" fill="#ff00ff"/>
<rect x="316" y="519" width="1" height="1" fill="#ff00ff"/>
<rect x="313" y="521" width="1" height="1" fill="#ff00ff"/>
<rect x="319" y="521" width="2" height="1" fill="#ff00ff"/>
<rect x="311" y="522" width="2" height="1" fill="#ff00ff"/>
<rect x="321" y="522" width="2" height="1" fill="#ff00ff"/>
<rect x="314" y="520" width="2" height="1" fill="#ff00ff"/>
<rect x="317" y="520" width="2" height="1" fill="#ff00ff"/>
<rect x="310" y="523" width="1" height="1" fill="#ff00ff"/>
<rect x="323" y="523" width="1" height="1" fill="#ff00ff"/>
<rect x="327" y="521" width="1" height="1" fill="#ff00ff"/>
<rect x="331" y="521" width="1" height="1" fill="#ff00ff"/>
<rect x="325" y="523" width="1" height="1" fill="#ff00ff"/>
<rect x="333" y="523" width="1" height="1" fill="#ff00ff"/>
<rect x="328" y="520" width="1" height="1" fill="#ff00ff"/>
<rect x="330" y="520" width="1" height="1" fill="#ff00ff"/>
<rect x="326" y="522" width="1" height="1" fill="#ff00ff"/>
<rect x="332" y="522" width="1" height="1" fill="#ff00ff"/>
<rect x="329" y="519" width="1" height="1" fill="#ff00ff"/>
<rect x="337" y="519" width="1" height="1" fill="#ff00ff"/>
<rect x="335" y="522" width="1" height="1" fill="#ff00ff"/>
<rect x="340" y="522" width="1" height="1" fill="#ff00ff"/>
<rect x="336" y="521" width="1" height="1" fill="#ff00ff"/>
<rect x="339" y="521" width="1" height="1" fill="#ff00ff"/>
<rect x="336" y="520" width="1" height="1" fill="#ff00ff"/>
<rect x="338" y="520" width="1" height="1" fill="#ff00ff"/>
<rect x="334" y="523" width="1" height="1" fill="#ff00ff"/>
<rect x="341" y="523" width="1" height="1" fill="#ff00ff"/>
<rect x="342" y="521" width="4" height="1" fill="#ff00ff"/>
<rect x="349" y="521" width="1" height="1" fill="#ff00ff"/>
<rect x="355" y="521" width="2" height="1" fill="#ff00ff"/>
<rect x="346" y="523" width="1" height="1" fill="#ff00ff"/>
<rect x="359" y="523" width="1" height="1" fill="#ff00ff"/>
<rect x="350" y="520" width="2" height="1" fill="#ff00ff"/>
<rect x="353" y="520" width="2" height="1" fill="#ff00ff"/>
<rect x="347" y="522" width="2" height="1" fill="#ff00ff"/>
<rect x="357" y="522" width="2" height="1" fill="#ff00ff"/>
<rect x="352" y="519" width="1" height="1" fill="#ff00ff"/>
<rect x="364" y="519" width="1" height="1" fill="#ff00ff"/>
<rect x="361" y="522" width="1" height="1" fill="#ff00ff"/>
<rect x="368" y="522" width="1" height="1" fill="#ff00ff"/>
<rect x="362" y="521" width="1" height="1" fill="#ff00ff"/>
<rect x="366" y="521" width="2" height="1" fill="#ff00ff"/>
<rect x="363" y="520" width="1" height="1" fill="#ff00ff"/>
<rect x="365" y="520" width="1" height="1" fill="#ff00ff"/>
<rect x="360" y="523" width="1" height="1" fill="#ff00ff"/>
<rect x="369" y="523" width="1" height="1" fill="#ff00ff"/>
<rect x="370" y="521" width="3" height="1" fill="#ff00ff"/>
<rect x="373" y="521" width="3" height="1" fill="#ff00ff"/>
<rect x="381" y="519" width="1" height="1" fill="#ff00ff"/>
<rect x="380" y="521" width="1" height="1" fill="#ff00ff"/>
<rect x="383" y="521" width="1" height="1" fill="#ff00ff"/>
<rect x="378" y="523" width="1" height="1" fill="#ff00ff"/>
<rect x="384" y="523" width="1" height="1" fill="#ff00ff"/>
<rect x="380" y="520" width="1" height="1" fill="#ff00ff"/>
<rect x="382" y="520" width="1" height="1" fill="#ff00ff"/>
<rect x="379" y="522" width="1" height="1" fill="#ff00ff"/>
<rect x="383" y="522" width="1" height="1" fill="#ff00ff"/>
<rect x="385" y="521" width="5" height="1" fill="#ff00ff"/>
<rect x="392" y="521" width="1" height="1" fill="#ff00ff"/>
<rect x="395" y="521" width="1" height="1" fill="#ff00ff"/>
<rect x="390" y="523" width="1" height="1" fill="#ff00ff"/>
<rect x="396" y="523" width="1" height="1" fill="#ff00ff"/>
<rect x="392" y="520" width="1" height="1" fill="#ff00ff"/>
<rect x="394" y="520" width="1" height="1" fill="#ff00ff"/>
<rect x="393" y="519" width="1" height="1" fill="#ff00ff"/>
<rect x="391" y="522" width="1" height="1" fill="#ff00ff"/>
<rect x="395" y="522" width="1" height="1" fill="#ff00ff"/>
<rect x="398" y="522" width="1" height="1" fill="#ff00ff"/>
<rect x="405" y="522" width="1" height="1" fill="#ff00ff"/>
<rect x="399" y="521" width="1" height="1" fill="#ff00ff"/>
<rect x="403" y="521" width="2" height="1" fill="#ff00ff"/>
<rect x="397" y="523" width="1" height="1" fill="#ff00ff"/>
<rect x="406" y="523" width="1" height="1" fill="#ff00ff"/>
<rect x="400" y="520" width="1" height="1" fill="#ff00ff"/>
<rect x="402" y="520" width="1" height="1" fill="#ff00ff"/>
<rect x="401" y="519" width="1" height="1" fill="#ff00ff"/>
<rect x="408" y="521" width="4" height="1" fill="#ff00ff"/>
<rect x="416" y="523" width="8" height="1" fill="#ff00ff"/>
<rect x="422" y="524" width="1" height="1" fill="#ff00ff"/>
<rect x="421" y="521" width="1" height="1" fill="#ff00ff"/>
<rect x="423" y="523" width="1" height="1" fill="#ff00ff"/>
<rect x="420" y="520" width="1" height="1" fill="#ff00ff"/>
<rect x="420" y="526" width="1" height="1" fill="#ff00ff"/>
<rect x="422" y="522" width="1" height="1" fill="#ff00ff"/>
<rect x="421" y="525" width="1" height="1" fill="#ff00ff"/>
<text class="n" x="517" y="516" textLength="102" lengthAdjust="spacingAndGlyphs">IAH1|NM_001039613</text>
<rect x="517" y="519" width="2" height="10" fill="#ff00ff"/>
<rect x="520" y="519" width="2" height="10" fill="#ff00ff"/>
<rect x="523" y="519" width="2" height="10" fill="#ff00ff"/>
<rect x="528" y="519" width="2" height="10" fill="#ff00ff"/>
<rect x="532" y="519" width="2" height="10" fill="#ff00ff"/>
<rect x="538" y="519" width="2" height="10" fill="#ff00ff"/>
<rect x="518" y="521" width="3" height="1" fill="#ff00ff"/>
<rect x="521" y="521" width="3" height="1" fill="#ff00ff"/>
<rect x="524" y="521" width="5" height="1" fill="#ff00ff"/>
<rect x="529" y="521" width="4" height="1" fill="#ff00ff"/>
<rect x="534" y="522" width="1" height="1" fill="#ff00ff"/>
<rect x="537" y="522" width="1" height="1" fill="#ff00ff"/>
<rect x="534" y="521" width="1" height="1" fill="#ff00ff"/>
<rect x="537" y="521" width="1" height="1" fill="#ff00ff"/>
<rect x="535" y="520" width="2" height="1" fill="#ff00ff"/>
<rect x="533" y="523" width="1" height="1" fill="#ff00ff"/>
<rect x="538" y="523" width="1" height="1" fill="#ff00ff"/>
<rect x="535" y="519" width="1" height="1" fill="#ff00ff"/>
<rect x="540" y="523" width="7" height="1" fill="#ff00ff"/>
<rect x="545" y="522" width="1" height="1" fill="#ff00ff"/>
<rect x="544" y="525" width="1" height="1" fill="#ff00ff"/>
<rect x="544" y="521" width="1" height="1" fill="#ff00ff"/>
<rect x="545" y="524" width="1" height="1" fill="#ff00ff"/>
<rect x="543" y="520" width="1" height="1" fill="#ff00ff"/>
<rect x="543" y="526" width="1" height="1" fill="#ff00ff"/>
<rect x="546" y="523" width="1" height="1" fill="#ff00ff"/>
<text class="n" x="415" y="541" textLength="108" lengthAdjust="spacingAndGlyphs">ITGB1BP1|NM_004763</text>
<rect x="415" y="544" width="5" height="10" fill="#ff00ff"/>
<rect x="425" y="544" width="4" height="10" fill="#ff00ff"/>
<rect x="434" y="544" width="2" height="10" fill="#ff00ff"/>
<rect x="441" y="544" width="2" height="10" fill="#ff00ff"/>
<rect x="422" y="544" width="1" height="1" fill="#ff00ff"/>
<rect x="421" y="546" width="1" height="1" fill="#ff00ff"/>
<rect x="424" y="546" width="1" height="1" fill="#ff00ff"/>
<rect x="420" y="547" width="1" height="1" fill="#ff00ff"/>
<rect x="424" y="547" width="1" height="1" fill="#ff00ff"/>
<rect x="421" y="545" width="1" height="1" fill="#ff00ff"/>
<rect x="423" y="545" width="1" height="1" fill="#ff00ff"/>
<rect x="419" y="548" width="1" height="1" fill="#ff00ff"/>
<rect x="425" y="548" width="1" height="1" fill="#ff00ff"/>
<rect x="430" y="546" width="1" height="1" fill="#ff00ff"/>
<rect x="433" y="546" width="1" height="1" fill="#ff00ff"/>
<rect x="429" y="547" width="1" height="1" fill="#ff00ff"/>
<rect x="433" y="547" width="1" height="1" fill="#ff00ff"/>
<rect x="431" y="544" width="1" height="1" fill="#ff00ff"/>
<rect x="430" y="545" width="1" height="1" fill="#ff00ff"/>
<rect x="432" y="545" width="1" height="1" fill="#ff00ff"/>
<rect x="428" y="548" width="1" height="1" fill="#ff00ff"/>
<rect x="434" y="548" width="1" height="1" fill="#ff00ff"/>
<rect x="436" y="547" width="1" height="1" fill="#ff00ff"/>
<rect x="440" y="547" width="1" height="1" fill="#ff00ff"/>
<rect x="435" y="548" width="1" height="1" fill="#ff00ff"/>
<rect x="441" y="548" width="1" height="1" fill="#ff00ff"/>
<rect x="437" y="545" width="1" height="1" fill="#ff00ff"/>
<rect x="439" y="545" width="1" height="1" fill="#ff00ff"/>
<rect x="437" y="546" width="1" height="1" fill="#ff00ff"/>
<rect x="440" y="546" width="1" height="1" fill="#ff00ff"/>
<rect x="438" y="544" width="1" height="1" fill="#ff00ff"/>
<rect x="407" y="548" width="8" height="1" fill="#ff00ff"/>
<rect x="409" y="550" width="1" height="1" fill="#ff00ff"/>
<rect x="409" y="546" width="1" height="1" fill="#ff00ff"/>
<rect x="410" y="551" width="1" height="1" fill="#ff00ff"/>
<rect x="408" y="547" width="1" height="1" fill="#ff00ff"/>
<rect x="408" y="549" width="1" height="1" fill="#ff00ff"/>
<rect x="407" y="548" width="1" height="1" fill="#ff00ff"/>
<rect x="410" y="545" width="1" height="1" fill="#ff00ff"/>
<text class="n" x="539" y="541" textLength="96" lengthAdjust="spacingAndGlyphs">ADAM17|NM_003183</text>
<rect x="539" y="544" width="4" height="10" fill="#ff00ff"/>
<rect x="545" y="544" width="3" height="10" fill="#ff00ff"/>
<rect x="551" y="544" width="2" height="10" fill="#ff00ff"/>
<rect x="559" y="544" width="2" height="10" fill="#ff00ff"/>
<rect x="563" y="544" width="2" height="10" fill="#ff00ff"/>
<rect x="570" y="544" width="2" height="10" fill="#ff00ff"/>
<rect x="582" y="544" width="2" height="10" fill="#ff00ff"/>
<rect x="587" y="544" width="2" height="10" fill="#ff00ff"/>
<rect x="590" y="544" width="2" height="10" fill="#ff00ff"/>
<rect x="594" y="544" width="2" height="10" fill="#ff00ff"/>
<rect x="597" y="544" width="2" height="10" fill="#ff00ff"/>
<rect x="609" y="544" width="2" height="10" fill="#ff00ff"/>
<rect x="620" y="544" width="2" height="10" fill="#ff00ff"/>
<rect x="638" y="544" width="2" height="10" fill="#ff00ff"/>
<rect x="542" y="546" width="4" height="1" fill="#ff00ff"/>
<rect x="547" y="546" width="5" height="1" fill="#ff00ff"/>
<rect x="555" y="544" width="1" height="1" fill="#ff00ff"/>
<rect x="552" y="548" width="1" height="1" fill="#ff00ff"/>
<rect x="559" y="548" width="1" height="1" fill="#ff00ff"/>
<rect x="553" y="547" width="1" height="1" fill="#ff00ff"/>
<rect x="558" y="547" width="1" height="1" fill="#ff00ff"/>
<rect x="554" y="545" width="1" height="1" fill="#ff00ff"/>
<rect x="556" y="545" width="1" height="1" fill="#ff00ff"/>
<rect x="554" y="546" width="1" height="1" fill="#ff00ff"/>
<rect x="557" y="546" width="1" height="1" fill="#ff00ff"/>
<rect x="560" y="546" width="4" height="1" fill="#ff00ff"/>
<rect x="565" y="547" width="1" height="1" fill="#ff00ff"/>
<rect x="569" y="547" width="1" height="1" fill="#ff00ff"/>
<rect x="567" y="544" width="1" height="1" fill="#ff00ff"/>
<rect x="566" y="545" width="1" height="1" fill="#ff00ff"/>
<rect x="568" y="545" width="1" height="1" fill="#ff00ff"/>
<rect x="566" y="546" width="1" height="1" fill="#ff00ff"/>
<rect x="569" y="546" width="1" height="1" fill="#ff00ff"/>
<rect x="564" y="548" width="1" height="1" fill="#ff00ff"/>
<rect x="570" y="548" width="1" height="1" fill="#ff00ff"/>
<rect x="572" y="547" width="1" height="1" fill="#ff00ff"/>
<rect x="580" y="547" width="2" height="1" fill="#ff00ff"/>
<rect x="575" y="545" width="1" height="1" fill="#ff00ff"/>
<rect x="577" y="545" width="2" height="1" fill="#ff00ff"/>
<rect x="573" y="546" width="2" height="1" fill="#ff00ff"/>
<rect x="579" y="546" width="1" height="1" fill="#ff00ff"/>
<rect x="571" y="548" width="1" height="1" fill="#ff00ff"/>
<rect x="582" y="548" width="1" height="1" fill="#ff00ff"/>
<rect x="576" y="544" width="1" height="1" fill="#ff00ff"/>
<rect x="583" y="546" width="5" height="1" fill="#ff00ff"/>
<rect x="588" y="546" width="3" height="1" fill="#ff00ff"/>
<rect x="591" y="546" width="4" height="1" fill="#ff00ff"/>
<rect x="595" y="546" width="3" height="1" fill="#ff00ff"/>
<rect x="599" y="547" width="1" height="1" fill="#ff00ff"/>
<rect x="607" y="547" width="2" height="1" fill="#ff00ff"/>
<rect x="598" y="548" width="1" height="1" fill="#ff00ff"/>
<rect x="609" y="548" width="1" height="1" fill="#ff00ff"/>
<rect x="600" y="546" width="2" height="1" fill="#ff00ff"/>
<rect x="606" y="546" width="1" height="1" fill="#ff00ff"/>
<rect x="602" y="545" width="1" height="1" fill="#ff00ff"/>
<rect x="604" y="545" width="2" height="1" fill="#ff00ff"/>
<rect x="603" y="544" width="1" height="1" fill="#ff00ff"/>
<rect x="615" y="544" width="1" height="1" fill="#ff00ff"/>
<rect x="611" y="547" width="1" height="1" fill="#ff00ff"/>
<rect x="619" y="547" width="1" height="1" fill="#ff00ff"/>
<rect x="612" y="546" width="2" height="1" fill="#ff00ff"/>
<rect x="617" y="546" width="2" height="1" fill="#ff00ff"/>
<rect x="610" y="548" width="1" height="1" fill="#ff00ff"/>
<rect x="620" y="548" width="1" height="1" fill="#ff00ff"/>
<rect x="614" y="545" width="1" height="1" fill="#ff00ff"/>
<rect x="616" y="545" width="1" height="1" fill="#ff00ff"/>
<rect x="622" y="547" width="2" height="1" fill="#ff00ff"/>
<rect x="635" y="547" width="2" height="1" fill="#ff00ff"/>
<rect x="624" y="546" width="2" height="1" fill="#ff00ff"/>
<rect x="633" y="546" width="2" height="1" fill="#ff00ff"/>
<rect x="626" y="545" width="2" height="1" fill="#ff00ff"/>
<rect x="631" y="545" width="2" height="1" fill="#ff00ff"/>
<rect x="628" y="544" width="3" height="1" fill="#ff00ff"/>
<rect x="621" y="548" width="1" height="1" fill="#ff00ff"/>
<rect x="637" y="548" width="2" height="1" fill="#ff00ff"/>
<rect x="531" y="548" width="8" height="1" fill="#ff00ff"/>
<rect x="532" y="547" width="1" height="1" fill="#ff00ff"/>
<rect x="534" y="551" width="1" height="1" fill="#ff00ff"/>
<rect x="533" y="550" width="1" height="1" fill="#ff00ff"/>
<rect x="532" y="549" width="1" height="1" fill="#ff00ff"/>
<rect x="533" y="546" width="1" height="1" fill="#ff00ff"/>
<rect x="531" y="548" width="1" height="1" fill="#ff00ff"/>
<rect x="534" y="545" width="1" height="1" fill="#ff00ff"/>
<text class="n" x="415" y="566" textLength="108" lengthAdjust="spacingAndGlyphs">ITGB1BP1|NM_022334</text>
<rect x="415" y="569" width="5" height="10" fill="#ff00ff"/>
<rect x="425" y="569" width="4" height="10" fill="#ff00ff"/>
<rect x="434" y="569" width="2" height="10" fill="#ff00ff"/>
<rect x="441" y="569" width="2" height="10" fill="#ff00ff"/>
<rect x="422" y="569" width="1" height="1" fill="#ff00ff"/>
<rect x="419" y="573" width="1" height="1" fill="#ff00ff"/>
<rect x="425" y="573" width="1" height="1" fill="#ff00ff"/>
<rect x="420" y="572" width="1" height="1" fill="#ff00ff"/>
<rect x="424" y="572" width="1" height="1" fill="#ff00ff"/>
<rect x="421" y="571" width="1" height="1" fill="#ff00ff"/>
<rect x="424" y="571" width="1" height="1" fill="#ff00ff"/>
<rect x="421" y="570" width="1" height="1" fill="#ff00ff"/>
<rect x="423" y="570" width="1" height="1" fill="#ff00ff"/>
<rect x="428" y="573" width="1" height="1" fill="#ff00ff"/>
<rect x="434" y="573" width="1" height="1" fill="#ff00ff"/>
<rect x="429" y="572" width="1" height="1" fill="#ff00ff"/>
<rect x="433" y="572" width="1" height="1" fill="#ff00ff"/>
<rect x="430" y="570" width="1" height="1" fill="#ff00ff"/>
<rect x="432" y="570" width="1" height="1" fill="#ff00ff"/>
<rect x="431" y="569" width="1" height="1" fill="#ff00ff"/>
<rect x="430" y="571" width="1" height="1" fill="#ff00ff"/>
<rect x="433" y="571" width="1" height="1" fill="#ff00ff"/>
<rect x="438" y="569" width="1" height="1" fill="#ff00ff"/>
<rect x="435" y="573" width="1" height="1" fill="#ff00ff"/>
<rect x="441" y="573" width="1" height="1" fill="#ff00ff"/>
<rect x="437" y="570" width="1" height="1" fill="#ff00ff"/>
<rect x="439" y="570" width="1" height="1" fill="#ff00ff"/>
<rect x="436" y="572" width="1" height="1" fill="#ff00ff"/>
<rect x="440" y="572" width="1" height="1" fill="#ff00ff"/>
<rect x="437" y="571" width="1" height="1" fill="#ff00ff"/>
<rect x="440" y="571" width="1" height="1" fill="#ff00ff"/>
<rect x="407" y="573" width="8" height="1" fill="#ff00ff"/>
<rect x="407" y="573" width="1" height="1" fill="#ff00ff"/>
<rect x="409" y="575" width="1" height="1" fill="#ff00ff"/>
<rect x="410" y="570" width="1" height="1" fill="#ff00ff"/>
<rect x="410" y="576" width="1" height="1" fill="#ff00ff"/>
<rect x="408" y="572" width="1" height="1" fill="#ff00ff"/>
<rect x="409" y="571" width="1" height="1" fill="#ff00ff"/>
<rect x="408" y="574" width="1" height="1" fill="#ff00ff"/>
<text class="b" x="60" y="611" textLength="189" lengthAdjust="spacingAndGlyphs">UCSC segmental duplications</text>
<text class="n" x="680" y="623" textLength="138" lengthAdjust="spacingAndGlyphs">%ID:98.9141|Length:1013</text>
<rect x="681" y="626" width="2" height="6" fill="#800080"/>
<text class="n" x="680" y="644" textLength="138" lengthAdjust="spacingAndGlyphs">%ID:90.6556|Length:1327</text>
<rect x="681" y="647" width="3" height="6" fill="#0000ff"/>
<text class="n" x="680" y="665" textLength="138" lengthAdjust="spacingAndGlyphs">%ID:95.1265|Length:1067</text>
<rect x="681" y="668" width="3" height="6" fill="#006400"/>
<text class="n" x="680" y="686" textLength="132" lengthAdjust="spacingAndGlyphs">%ID:93.515|Length:1064</text>
<rect x="681" y="689" width="3" height="6" fill="#006400"/>
</svg>
</body></html>
